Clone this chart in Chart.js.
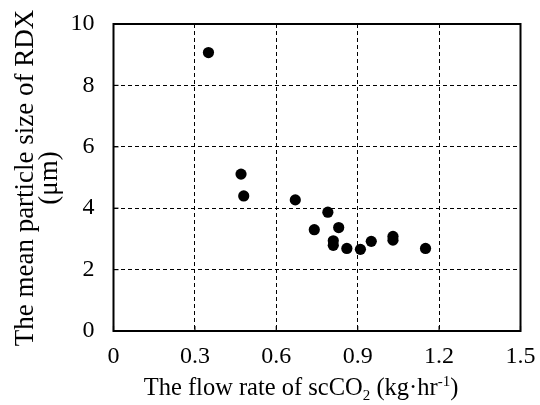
<!DOCTYPE html>
<html lang="en">
<head>
    <meta charset="UTF-8">
    <script src="https://cdn.jsdelivr.net/npm/chart.js"></script>
    <title>RDX particle size</title>
    <style>
        * { margin: 0; padding: 0; box-sizing: border-box; }
        body { background: #fff; }
        #wrap { width: 540px; height: 405px; }
    </style>
</head>
<body>
<div id="wrap"><canvas id="chart"></canvas></div>
<script>
    // flow rate of scCO2 (kg/hr) vs mean particle size (um)
    const flowRate = [0.35, 0.47, 0.48, 0.67, 0.79, 0.74, 0.83, 0.81, 0.81, 0.86, 0.91, 0.95, 1.03, 1.03, 1.15];
    const particleSize = [9.07, 5.11, 4.40, 4.27, 3.87, 3.30, 3.37, 2.94, 2.79, 2.69, 2.66, 2.92, 3.08, 2.96, 2.69];
    const xTicks = [0, 0.3, 0.6, 0.9, 1.2, 1.5];
    const yTicks = [0, 2, 4, 6, 8, 10];

    const serif = "'Liberation Serif', 'Times New Roman', serif";

    const frame = {
        id: 'frame',
        afterDraw(chart) {
            const { ctx, chartArea: a, scales } = chart;
            ctx.save();
            ctx.strokeStyle = '#000';
            ctx.lineWidth = 1.2;
            // inside tick marks
            xTicks.forEach(v => {
                const px = scales.x.getPixelForValue(v);
                ctx.beginPath(); ctx.moveTo(px, a.bottom); ctx.lineTo(px, a.bottom - 5); ctx.stroke();
            });
            yTicks.forEach(v => {
                const py = scales.y.getPixelForValue(v);
                ctx.beginPath(); ctx.moveTo(a.left, py); ctx.lineTo(a.left + 5, py); ctx.stroke();
            });
            ctx.lineWidth = 2;
            ctx.strokeRect(a.left, a.top, a.right - a.left, a.bottom - a.top);

            ctx.fillStyle = '#000';
            // x title with subscript and superscript
            const big = '24.5px ' + serif, small = '15px ' + serif;
            const parts = [
                ['The flow rate of scCO', big, 0],
                ['2', small, 5],
                [' (kg\u00b7hr', big, 0],
                ['-1', small, -9],
                [')', big, 0]
            ];
            let total = 0;
            parts.forEach(p => { ctx.font = p[1]; total += ctx.measureText(p[0]).width; });
            let x = 301 - total / 2;
            const base = 395;
            ctx.textBaseline = 'alphabetic';
            ctx.textAlign = 'left';
            parts.forEach(p => {
                ctx.font = p[1];
                ctx.fillText(p[0], x, base + p[2]);
                x += ctx.measureText(p[0]).width;
            });

            // y title, two lines
            ctx.translate(0, 178);
            ctx.rotate(-Math.PI / 2);
            ctx.textAlign = 'center';
            ctx.font = '27px ' + serif;
            ctx.fillText('The mean particle size of RDX', 0, 33);
            ctx.fillText('(\u03bcm)', 0, 57);
            ctx.restore();
        }
    };

    const ctx = document.getElementById('chart').getContext('2d');
    new Chart(ctx, {
        type: 'scatter',
        data: {
            datasets: [{
                data: flowRate.map((v, i) => ({ x: v, y: particleSize[i] })),
                backgroundColor: '#000',
                borderWidth: 0,
                pointRadius: 5.6,
                pointHoverRadius: 5.6
            }]
        },
        options: {
            responsive: true,
            maintainAspectRatio: false,
            animation: false,
            layout: { padding: { top: 24, right: 19.5, left: 0, bottom: 0 } },
            plugins: {
                legend: { display: false },
                tooltip: { enabled: false }
            },
            scales: {
                x: {
                    type: 'linear',
                    min: 0,
                    max: 1.5,
                    afterBuildTicks: s => { s.ticks = xTicks.map(v => ({ value: v })); },
                    afterFit: s => { s.height = 74; },
                    grid: { color: '#000', lineWidth: 1, drawTicks: false },
                    border: { display: false, dash: [4, 3] },
                    ticks: {
                        padding: 4,
                        color: '#000',
                        font: { family: serif, size: 24, lineHeight: 1.83 },
                        maxRotation: 0,
                        callback: v => String(v)
                    }
                },
                y: {
                    min: 0,
                    max: 10,
                    afterBuildTicks: s => { s.ticks = yTicks.map(v => ({ value: v })); },
                    afterFit: s => { s.width = 113.5; },
                    grid: { color: '#000', lineWidth: 1, drawTicks: false },
                    border: { display: false, dash: [4, 3] },
                    ticks: {
                        padding: 19,
                        color: '#000',
                        font: { family: serif, size: 24, lineHeight: 0.4 },
                        callback: v => String(v)
                    }
                }
            }
        },
        plugins: [frame]
    });
</script>
</body>
</html>
